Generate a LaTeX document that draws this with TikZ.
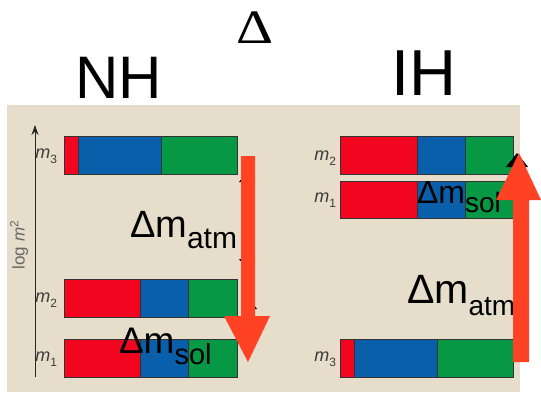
\documentclass[tikz,border=0pt]{standalone}
\usepackage{fontspec}
\setmainfont{Liberation Sans}
\newfontfamily\serifdelta{Liberation Serif}
\usetikzlibrary{arrows.meta}
\definecolor{beige}{HTML}{E6DECB}
\definecolor{nred}{HTML}{F2061F}
\definecolor{nblue}{HTML}{0A5FAA}
\definecolor{ngreen}{HTML}{079845}
\definecolor{arrred}{HTML}{FF4124}
\definecolor{lblgray}{HTML}{3C3C3C}
\newcommand\mbar[6]{%
  \fill[nred] (#1,#3) rectangle (#5,#4);
  \fill[nblue] (#5,#3) rectangle (#6,#4);
  \fill[ngreen] (#6,#3) rectangle (#2,#4);
  \draw[barline] (#5,#3) -- (#5,#4) (#6,#3) -- (#6,#4);
  \draw[barline] (#1,#3) rectangle (#2,#4);
}
\newcommand\dmlab[3]{{\fontsize{#1}{#1}\selectfont \char"0394 m\raisebox{-0.3em}{\fontsize{#2}{#2}\selectfont #3}}}
\newcommand\mlab[1]{{\fontsize{18}{18}\selectfont\itshape m\raisebox{-0.28em}{\fontsize{12}{12}\selectfont\upshape #1}}}
\begin{document}
\begin{tikzpicture}[x=1pt,y=-1pt,
  barline/.style={draw=black!80, line width=0.7pt},
  txt/.style={inner sep=0pt, outer sep=0pt},
  mlabel/.style={txt, anchor=east, text=lblgray},
  blk/.style={black, line width=1pt},
  redarrow/.style={fill=arrred}]
\useasboundingbox (0,0) rectangle (541,392);
\fill[white] (0,0) rectangle (541,392);
\fill[beige] (7,105) rectangle (520,392);

% titles
\node[txt, anchor=base] (nh) at (119,98) {\fontsize{60}{60}\selectfont NH};
\node[txt, anchor=base] (delta) at (255.5,43) {\scalebox{1.2}[1]{\serifdelta\fontsize{48}{48}\selectfont \char"0394}};
\node[txt, anchor=base] (ih) at (423.5,95) {\fontsize{65}{65}\selectfont IH};

% axis
\coordinate (axbot) at (35,377);
\coordinate (axtop) at (35,125);
\draw[black!85, line width=1pt, -{Stealth[length=10pt,width=7pt]}] (axbot) -- (axtop);
\node[txt, rotate=90, text=black!60] (logm) at (19,245) {\fontsize{17}{17}\selectfont log \textit{m}\textsuperscript{2}};

% NH bars
\mbar{64}{237}{136}{174}{78}{161}
\mbar{64}{237}{279}{317}{140}{188}
\mbar{64}{237}{339}{377}{140}{188}
\node[mlabel] (nm3) at (57,156) {\mlab{3}};
\node[mlabel] (nm2) at (57,300) {\mlab{2}};
\node[mlabel] (nm1) at (57,359) {\mlab{1}};

% IH bars
\mbar{340}{513}{136}{174}{417}{465}
\mbar{340}{513}{181}{218}{417}{465}
\mbar{340}{513}{339}{377}{354}{437}
\node[mlabel] (im2) at (336,158) {\mlab{2}};
\node[mlabel] (im1) at (336,200) {\mlab{1}};
\node[mlabel] (im3) at (336,359) {\mlab{3}};

% hidden black arrows
\coordinate (na1) at (246,174);
\coordinate (na2) at (246,267);
\draw[blk, {Triangle[length=8pt,width=14pt]}-{Triangle[length=8pt,width=14pt]}] (na1) -- (na2);
\coordinate (ns1) at (250,300);
\coordinate (ns2) at (250,338);
\draw[blk, {Triangle[length=9pt,width=14pt]}-] (ns1) -- (ns2);
\coordinate (is1) at (517,153);
\coordinate (is2) at (517,330);
\draw[blk, -{Triangle[length=14pt,width=22pt]}] (is2) -- (is1);

% labels
\node[txt, anchor=base west] (natm) at (130,237) {\dmlab{38}{30}{atm}};
\node[txt, anchor=base west] (nsol) at (119,353) {\dmlab{37}{29}{sol}};
\node[txt, anchor=base west] (isol) at (417,203) {\dmlab{32}{28}{sol}};
\node[txt, anchor=base west] (iatm) at (407,303) {\dmlab{41}{28}{atm}};

% red arrows
\fill[redarrow] (241,156) -- (255,156) -- (255,316) -- (270,316) -- (248,362) -- (224,316) -- (241,316) -- cycle;
\fill[redarrow] (513,362) -- (529,362) -- (529,200) -- (541,200) -- (519,153) -- (496,200) -- (513,200) -- cycle;
\end{tikzpicture}
\end{document}
